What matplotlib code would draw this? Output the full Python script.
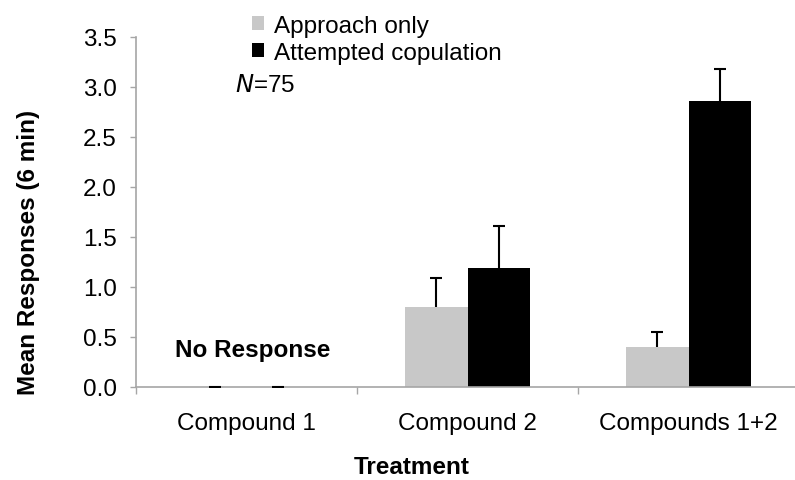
import numpy as np
from matplotlib import pyplot as plt

categories = ["Compound 1", "Compound 2", "Compounds 1+2"]
approach = [0.0, 0.80, 0.40]
approach_err = [0.0, 0.29, 0.15]
copulation = [0.0, 1.19, 2.86]
copulation_err = [0.0, 0.42, 0.32]
series_names = ["Approach only", "Attempted copulation"]
yticks = [0.0, 0.5, 1.0, 1.5, 2.0, 2.5, 3.0, 3.5]

plt.rcParams['font.family'] = ['Liberation Sans', 'DejaVu Sans']
fs = 17.5
axis_grey = "#a6a6a6"

fig = plt.figure(figsize=(7.95, 4.81), dpi=100)
ax = fig.add_axes([136 / 795, 1 - 388 / 481, 663 / 795, 350 / 481])

x = np.arange(len(categories))
w = 0.285
xa = x - w / 2
xc = x + w / 2
ax.bar(xa, approach, w, color="#c8c8c8", label=series_names[0], zorder=2)
ax.bar(xc, copulation, w, color="black", label=series_names[1], zorder=2)

# upper-only error bars with caps drawn separately
for xs, ys, es in [(xa, approach, approach_err), (xc, copulation, copulation_err)]:
    ys = np.array(ys)
    es = np.array(es)
    ax.vlines(xs, ys, ys + es, color="black", lw=1.5, zorder=3)
    ax.plot(xs, ys + es, ls="none", marker="_", ms=9, mew=1.5, color="black", zorder=3)

ax.set_xlim(-0.5, 2.5)
ax.set_ylim(0, 3.5)
ax.set_yticks(yticks)
ax.set_yticklabels([f"{v:.1f}" for v in yticks], fontsize=fs)
ax.set_xticks([-0.5, 0.5, 1.5, 2.5])
ax.set_xticklabels([])
ax.set_xticks(x, minor=True)
ax.set_xticklabels(categories, minor=True, fontsize=fs)
ax.tick_params(axis="x", which="major", length=5, width=1, color=axis_grey)
ax.tick_params(axis="x", which="minor", length=0, pad=18)
ax.tick_params(axis="y", length=4, width=1, color=axis_grey, pad=10)

for s in ["top", "right"]:
    ax.spines[s].set_visible(False)
for s in ["left", "bottom"]:
    ax.spines[s].set_color(axis_grey)
    ax.spines[s].set_linewidth(1.2)

ax.set_ylabel("Mean Responses (6 min)", fontsize=fs, fontweight="bold")
ax.yaxis.set_label_coords((40 - 136) / 663, (388 - 252) / 350)
ax.set_xlabel("Treatment", fontsize=fs, fontweight="bold", va="center")
ax.xaxis.set_label_coords((412 - 136) / 663, -(467 - 388) / 350)

ax.text(-0.324, 0.38, "No Response", fontsize=fs, fontweight="bold",
        ha="left", va="center")
ax.text(-0.052, 3.02, "$\\mathit{N}$=75", fontsize=fs, ha="left", va="center")

fig.legend(loc="upper left", bbox_to_anchor=(252 / 795, 1 - 16 / 481),
           frameon=False, fontsize=fs, handlelength=0.5, handleheight=0.5,
           handletextpad=0.4, labelspacing=0.2, borderpad=0, borderaxespad=0)

fig.savefig("out.png", dpi=100)
